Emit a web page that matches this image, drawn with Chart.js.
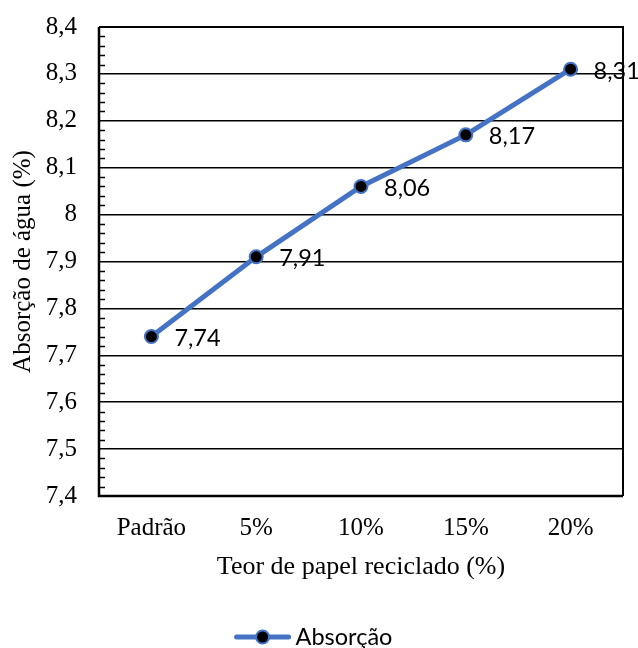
<!DOCTYPE html>
<html>
<head>
<meta charset="utf-8">
<script src="https://cdn.jsdelivr.net/npm/chart.js@4"></script>
<style>
  html, body { margin: 0; padding: 0; background: #fff; }
  #wrap { width: 638px; height: 648px; }
</style>
</head>
<body>
<div id="wrap"><canvas id="c" width="638" height="648"></canvas></div>
<script>
const categories = ['Padrão', '5%', '10%', '15%', '20%'];
const absorcao = [7.74, 7.91, 8.06, 8.17, 8.31];
const seriesName = 'Absorção';
const yTitle = 'Absorção de água (%)';
const xTitle = 'Teor de papel reciclado (%)';

const BLUE = '#4472C4';
const serif = "'Liberation Serif', 'Times New Roman', serif";
const sans = "Lato, 'Open Sans', sans-serif";

const fmt = v => String(Number(v.toFixed(2))).replace('.', ',');

// line-with-marker swatch used by the legend
function drawSwatch(ctx, cx, cy) {
  ctx.save();
  ctx.strokeStyle = BLUE; ctx.lineWidth = 5; ctx.lineCap = 'round';
  ctx.beginPath(); ctx.moveTo(cx - 26, cy); ctx.lineTo(cx + 26, cy); ctx.stroke();
  ctx.beginPath(); ctx.arc(cx, cy, 6.5, 0, Math.PI * 2);
  ctx.fillStyle = '#000'; ctx.fill();
  ctx.lineWidth = 2; ctx.strokeStyle = BLUE; ctx.stroke();
  ctx.restore();
}

// minor ticks, plot frame, point labels and the legend
const decorations = {
  id: 'decorations',
  beforeDatasetsDraw(chart) {
    const { ctx, chartArea: a, scales: { y } } = chart;
    ctx.save();
    ctx.strokeStyle = '#000';
    ctx.lineWidth = 1.5;
    for (let i = 0; i <= 50; i++) {
      if (i % 5 === 0) continue;
      const v = y.min + i * 0.02;
      const py = Math.round(y.getPixelForValue(v)) + 0.5;
      ctx.beginPath(); ctx.moveTo(a.left, py); ctx.lineTo(a.left + 6, py); ctx.stroke();
    }
    ctx.lineWidth = 2;
    ctx.beginPath();
    ctx.moveTo(a.left, a.top); ctx.lineTo(a.right, a.top); ctx.lineTo(a.right, a.bottom);
    ctx.stroke();
    ctx.lineWidth = 2.5;
    ctx.beginPath();
    ctx.moveTo(a.left, a.top); ctx.lineTo(a.left, a.bottom); ctx.lineTo(a.right, a.bottom);
    ctx.stroke();
    ctx.restore();
  },
  afterDatasetsDraw(chart) {
    const { ctx } = chart;
    const meta = chart.getDatasetMeta(0);
    ctx.save();
    ctx.font = '23.5px ' + sans;
    ctx.fillStyle = '#000';
    ctx.textAlign = 'left';
    ctx.textBaseline = 'middle';
    meta.data.forEach((pt, i) => {
      ctx.fillText(fmt(chart.data.datasets[0].data[i]), pt.x + 23, pt.y + 2);
    });
    ctx.restore();
  },
  afterDraw(chart) {
    const { ctx, width } = chart;
    ctx.save();
    ctx.font = '23.5px ' + sans;
    const tw = ctx.measureText(seriesName).width;
    const total = 54 + 6 + tw;
    const x0 = (width - total) / 2 - 5;
    const cy = 637;
    drawSwatch(ctx, x0 + 27, cy);
    ctx.fillStyle = '#000';
    ctx.textAlign = 'left';
    ctx.textBaseline = 'middle';
    ctx.fillText(seriesName, x0 + 60, cy);
    ctx.restore();
  }
};

new Chart(document.getElementById('c'), {
  type: 'line',
  data: {
    labels: categories,
    datasets: [{
      label: seriesName,
      data: absorcao,
      borderColor: BLUE,
      borderWidth: 5,
      pointRadius: 6.5,
      pointBackgroundColor: '#000',
      pointBorderColor: BLUE,
      pointBorderWidth: 2,
      tension: 0,
      clip: false
    }]
  },
  options: {
    responsive: false,
    animation: false,
    devicePixelRatio: 1,
    layout: { padding: { left: 0, top: 27, right: 15, bottom: 52 } },
    plugins: {
      legend: { display: false },
      tooltip: { enabled: false }
    },
    scales: {
      x: {
        offset: true,
        grid: { display: false, drawTicks: false },
        border: { display: false },
        ticks: { color: '#000', padding: 17, font: { family: serif, size: 25 } },
        title: { display: true, text: xTitle, color: '#000', padding: { top: 4, bottom: 13 }, font: { family: serif, size: 26 } },
        afterFit(s) { s.height = 100; }
      },
      y: {
        min: 7.4, max: 8.4,
        grid: { color: '#000', lineWidth: 1.5, drawTicks: false },
        border: { display: false },
        ticks: { stepSize: 0.1, color: '#000', padding: 22, font: { family: serif, size: 25 }, callback: v => fmt(v) },
        title: { display: true, text: yTitle, color: '#000', padding: { top: 8, bottom: 0 }, font: { family: serif, size: 25 } },
        afterFit(s) { s.width = 99; s.paddingTop = 0; s.paddingBottom = 0; }
      }
    }
  },
  plugins: [decorations]
});
</script>
</body>
</html>
